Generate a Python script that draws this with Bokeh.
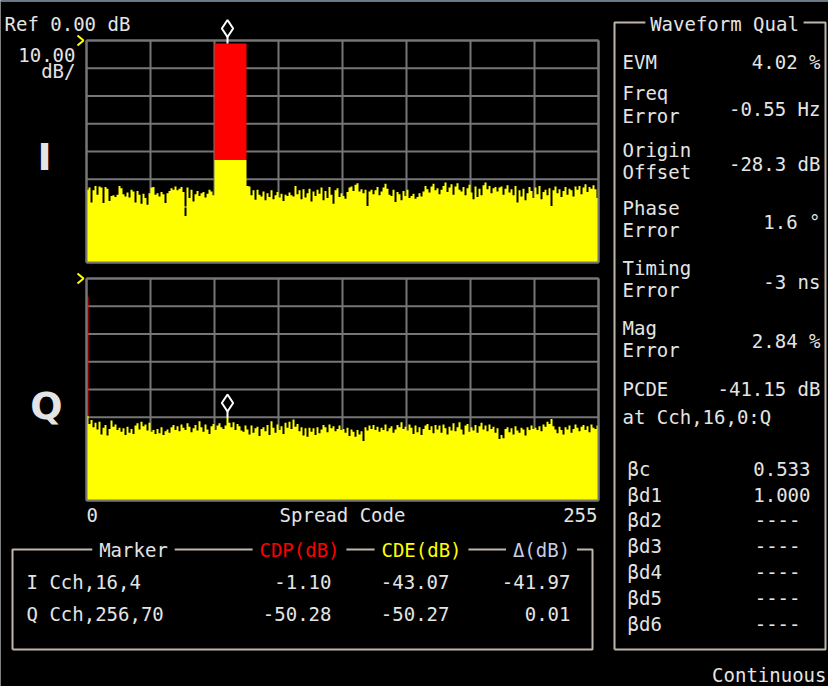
import numpy as np
from bokeh.plotting import figure
from bokeh.models import Range1d
from bokeh.core.properties import value
from bokeh.embed import file_html
from bokeh.resources import INLINE

# ---------------- data ----------------
N_CODES = 256
CODE_TICKS = [0, 32, 64, 96, 128, 160, 192, 224, 256]
DB_TICKS = [0, -10, -20, -30, -40, -50, -60, -70, -80]
DB_BOTTOM = -80.0

# I branch: code-domain error floor per code (dB); codes 64-79 = CDE of Cch 16,4
I_floor = [
    -53.8, -53.0, -58.4, -54.0, -52.4, -55.6, -52.6, -53.0, -58.6, -52.8, -53.4, -57.8, -56.0, -55.8, -56.4, -55.6,
    -52.4, -53.2, -55.4, -56.2, -54.8, -56.6, -53.8, -54.4, -58.4, -54.2, -55.6, -58.8, -55.2, -56.8, -59.2, -55.0,
    -53.0, -52.8, -55.6, -55.0, -56.2, -54.6, -55.4, -58.6, -55.0, -54.2, -53.2, -53.8, -52.6, -54.0, -53.4, -52.8,
    -54.6, -63.2, -53.0, -56.8, -53.8, -58.0, -55.4, -54.2, -56.0, -55.0, -54.6, -56.6, -55.2, -53.8, -54.4, -55.8,
    -43.07, -43.07, -43.07, -43.07, -43.07, -43.07, -43.07, -43.07, -43.07, -43.07, -43.07, -43.07, -43.07, -43.07, -43.07, -43.07,
    -52.4, -52.6, -55.8, -54.0, -57.4, -53.8, -55.6, -56.2, -54.4, -57.6, -55.0, -56.4, -54.0, -57.2, -55.8, -54.6,
    -56.6, -55.2, -57.8, -55.6, -56.0, -54.8, -55.8, -56.2, -52.4, -55.4, -54.0, -57.2, -53.6, -56.6, -55.0, -53.4,
    -58.0, -54.4, -56.0, -53.8, -55.2, -53.0, -57.6, -54.2, -56.8, -52.8, -55.6, -58.8, -54.0, -53.2, -56.4, -55.0,
    -56.0, -57.0, -54.6, -53.0, -52.6, -54.2, -52.0, -51.4, -54.4, -53.6, -55.0, -53.8, -59.6, -54.4, -53.8, -55.4,
    -54.0, -52.8, -55.8, -54.4, -53.0, -51.6, -53.4, -55.6, -56.0, -53.8, -58.2, -54.6, -55.4, -57.6, -54.2, -56.0,
    -53.8, -56.8, -56.0, -55.2, -57.0, -56.4, -55.0, -56.2, -54.4, -52.4, -53.6, -54.8, -52.6, -51.6, -54.0, -53.2,
    -55.4, -53.8, -52.4, -51.2, -54.6, -53.0, -51.8, -55.6, -52.6, -51.4, -53.8, -54.4, -52.8, -55.8, -53.2, -52.0,
    -54.8, -57.2, -52.6, -56.4, -53.4, -55.8, -52.2, -51.2, -53.6, -52.4, -55.0, -53.2, -52.8, -54.4, -53.0, -52.6,
    -55.6, -53.4, -52.2, -54.8, -53.6, -55.8, -52.4, -58.4, -54.0, -56.2, -53.4, -57.6, -55.0, -52.8, -54.2, -56.8,
    -53.0, -55.4, -52.4, -57.2, -54.6, -53.8, -55.8, -53.2, -59.6, -54.0, -52.6, -55.0, -53.6, -56.4, -54.2, -52.8,
    -55.6, -53.4, -54.0, -56.2, -52.6, -53.8, -52.4, -55.4, -53.0, -51.8, -54.6, -52.8, -53.4, -52.2, -53.6, -56.8,
]

# Q branch floor per code (dB); code 0 = DPCCH error, code 70 = marker
Q_floor = [
    -49.5, -52.4, -51.0, -53.6, -52.0, -54.4, -51.6, -56.2, -53.8, -52.8, -56.6, -54.2, -51.2, -53.4, -52.6, -54.6,
    -53.8, -55.2, -54.0, -56.4, -53.4, -55.6, -54.2, -56.0, -53.0, -52.2, -54.4, -51.6, -53.2, -52.6, -54.8, -52.0,
    -55.2, -54.6, -56.0, -54.2, -55.8, -53.6, -56.4, -55.0, -54.4, -55.6, -53.6, -52.8, -54.6, -53.2, -55.0, -52.6,
    -53.8, -54.6, -52.2, -53.4, -55.4, -54.0, -52.8, -54.8, -51.4, -53.6, -55.2, -52.6, -54.4, -56.0, -53.2, -52.4,
    -54.6, -53.0, -52.2, -53.6, -54.2, -53.0, -50.28, -52.0, -53.6, -51.8, -54.6, -52.4, -53.2, -54.8, -55.2, -53.0,
    -54.4, -56.2, -53.0, -55.6, -54.0, -53.4, -56.8, -54.2, -53.6, -55.0, -52.8, -56.4, -51.4, -53.8, -55.6, -52.6,
    -54.6, -53.2, -56.0, -52.0, -53.8, -51.6, -54.2, -50.8, -53.4, -52.4, -55.0, -53.6, -56.6, -54.0, -57.0, -53.8,
    -55.2, -54.0, -56.4, -53.6, -55.8, -54.4, -52.8, -53.6, -55.4, -52.6, -54.0, -53.2, -55.0, -54.2, -53.0, -54.6,
    -54.2, -55.6, -53.8, -56.8, -54.4, -55.2, -57.0, -54.6, -56.2, -55.0, -58.6, -53.6, -54.8, -53.0, -54.2, -52.8,
    -54.6, -53.4, -55.2, -53.8, -54.6, -52.6, -55.0, -54.0, -53.2, -55.6, -54.4, -52.8, -53.6, -51.8, -54.2, -53.4,
    -54.8, -52.6, -53.8, -56.0, -53.0, -55.4, -53.6, -56.4, -54.2, -53.0, -52.4, -54.6, -53.2, -55.8, -52.8, -54.4,
    -53.0, -55.6, -52.6, -54.0, -56.2, -53.4, -54.8, -52.2, -55.0, -53.6, -51.8, -54.4, -56.2, -53.0, -52.4, -55.2,
    -53.6, -54.8, -52.8, -55.6, -53.2, -52.0, -54.4, -53.0, -55.0, -52.6, -54.2, -53.4, -55.6, -54.0, -57.8, -56.4,
    -57.6, -54.2, -53.6, -55.4, -54.0, -56.2, -53.2, -54.8, -55.6, -53.8, -54.4, -56.6, -53.6, -54.6, -53.0, -54.2,
    -53.8, -54.6, -53.2, -55.0, -52.6, -53.4, -51.6, -52.4, -50.6, -53.2, -54.4, -55.8, -53.4, -54.6, -56.2, -53.6,
    -54.4, -53.0, -55.6, -54.2, -52.6, -53.8, -55.0, -53.4, -52.8, -54.6, -53.2, -55.4, -52.6, -53.8, -54.2, -53.0,
]

# active channels (first code, number of codes, CDP dB, CDE dB)
I_ch_start, I_ch_width, I_ch_cdp, I_ch_cde = [64], [16], [-1.10], [-43.07]
Q_ch_start, Q_ch_width, Q_ch_cdp, Q_ch_cde = [0], [1], [-6.55], [-49.5]

# markers: code, value
I_marker_code, I_marker_db = 70, -1.10
Q_marker_code, Q_marker_db = 70, -50.28

marker_rows = ["I Cch,16,4", "Q Cch,256,70"]
marker_cdp = ["-1.10", "-50.28"]
marker_cde = ["-43.07", "-50.27"]
marker_delta = ["-41.97", "0.01"]

wq_labels = ["EVM", "Freq", "Error", "Origin", "Offset", "Phase", "Error", "Timing", "Error", "Mag", "Error", "PCDE", "at Cch,16,0:Q"]
wq_values = ["4.02 %", "-0.55 Hz", "-28.3 dB", "1.6 °", "-3 ns", "2.84 %", "-41.15 dB"]
beta_labels = ["βc", "βd1", "βd2", "βd3", "βd4", "βd5", "βd6"]
beta_values = ["0.533", "1.000", "----", "----", "----", "----", "----"]

# ---------------- layout / style ----------------
W, H = 828, 686
M = 8  # page margin (reference pixel coords -> figure coords)
MONO = "DejaVu Sans Mono"
FS = "19px"
FG = "#e4e4e4"
GRID = "#767676"
BOX = "#bfb8aa"
YEL = "#ffff00"
RED = "#ff0000"

# panel pixel boxes in reference coordinates
PX_L, PX_R = 94, 606
I_TOP, I_BOT = 48, 270
Q_TOP, Q_BOT = 286, 508


def lin(p0, v0, p1, v1, total):
    s = (v1 - v0) / (p1 - p0)
    return v0 + (0 - p0) * s, v0 + (total - p0) * s


cx0, cx1 = lin(PX_L - M, 0, PX_R - M, N_CODES, W)
iy_top, iy_bot = lin(I_TOP - M, 0, I_BOT - M, DB_BOTTOM, H)
qy_top, qy_bot = lin(Q_TOP - M, 0, Q_BOT - M, DB_BOTTOM, H)
DBPP = -DB_BOTTOM / (I_BOT - I_TOP)  # dB per pixel

p = figure(width=W, height=H, x_range=Range1d(0, W), y_range=Range1d(H, 0),
           x_axis_location=None, y_axis_location=None, min_border=0,
           background_fill_color="black", border_fill_color="black",
           outline_line_color=None, output_backend="svg", toolbar_location=None)
p.grid.grid_line_color = None
p.extra_x_ranges = {"code": Range1d(cx0, cx1)}
p.extra_y_ranges = {"idb": Range1d(iy_bot, iy_top), "qdb": Range1d(qy_bot, qy_top)}

codes = np.arange(N_CODES)
step_x = np.concatenate([[0], np.repeat(codes, 2) + np.tile([0, 1], N_CODES), [N_CODES]])

# top strip line
p.segment(x0=[0], y0=[0.5], x1=[W], y1=[0.5], line_color="#5b7997", line_width=2)

for yr, floor, cs, cw, cdp, cde, mcode, mdb in [
        ("idb", I_floor, I_ch_start, I_ch_width, I_ch_cdp, I_ch_cde, I_marker_code, I_marker_db),
        ("qdb", Q_floor, Q_ch_start, Q_ch_width, Q_ch_cdp, Q_ch_cde, Q_marker_code, Q_marker_db)]:
    # grid
    p.segment(x0=CODE_TICKS, x1=CODE_TICKS, y0=[DB_BOTTOM] * len(CODE_TICKS), y1=[0] * len(CODE_TICKS),
              x_range_name="code", y_range_name=yr, line_color=GRID, line_width=2)
    p.segment(x0=[0] * len(DB_TICKS), x1=[N_CODES] * len(DB_TICKS), y0=DB_TICKS, y1=DB_TICKS,
              x_range_name="code", y_range_name=yr, line_color=GRID, line_width=2)
    # error floor (yellow), drawn as one stepped area
    step_y = np.concatenate([[DB_BOTTOM], np.repeat(np.asarray(floor, float), 2), [DB_BOTTOM]])
    p.patch(x=step_x, y=step_y, x_range_name="code", y_range_name=yr,
            fill_color=YEL, line_color=None)
    # channel power (red)
    p.quad(left=cs, right=[a + b for a, b in zip(cs, cw)], bottom=cde, top=cdp,
           x_range_name="code", y_range_name=yr, fill_color=RED, line_color=None)
    # frame
    p.segment(x0=[0, N_CODES, 0, 0], x1=[0, N_CODES, N_CODES, N_CODES],
              y0=[DB_BOTTOM, DB_BOTTOM, 0, DB_BOTTOM], y1=[0, 0, 0, DB_BOTTOM],
              x_range_name="code", y_range_name=yr, line_color=GRID, line_width=2)
    # marker
    mx = mcode + 0.5
    p.segment(x0=[mx], x1=[mx], y0=[mdb], y1=[mdb + 8 * DBPP], x_range_name="code", y_range_name=yr,
              line_color="white", line_width=2)
    p.scatter(x=[mx], y=[mdb + 15 * DBPP], marker="diamond", size=17, fill_color="black",
              line_color="white", line_width=2, x_range_name="code", y_range_name=yr)

# reference level chevrons
for ty in (I_TOP, Q_TOP):
    p.line(x=[85 - M, 91 - M, 85 - M], y=[ty - 5 - M, ty - M, ty + 5 - M], line_color=YEL, line_width=2)


def put(xs, ys, texts, color=FG, align="left", size=FS, font=MONO, style="normal"):
    p.text(x=[x - M for x in xs], y=[y - M for y in ys], text=texts, text_color=color,
           text_align=align, text_baseline="middle", text_font=value(font), text_font_size=size,
           text_font_style=style)


def seg(pts):
    p.line(x=[a - M for a, _ in pts], y=[b - M for _, b in pts], line_color=BOX, line_width=2)


# left header texts
put([12], [31], ["Ref 0.00 dB"])
put([83, 83], [62, 78], ["10.00", "dB/"], align="right")
put([52], [164], ["I"], align="center", size="38px", font="DejaVu Sans", style="bold")
put([54], [413], ["Q"], align="center", size="38px", font="DejaVu Sans", style="bold")

# code axis labels
put([94], [522], ["0"])
put([350], [522], ["Spread Code"], align="center")
put([605], [522], ["255"], align="right")

# marker table
CW = 0.6 * 19
hdr_text = ["Marker", "CDP(dB)", "CDE(dB)", "Δ(dB)"]
hdr_cx = [141, 307, 429, 549]
hdr_col = [FG, RED, YEL, "#c6cee2"]
HY, BL, BR, BB = 557, 20, 600, 657
edges = []
for t, c, col in zip(hdr_text, hdr_cx, hdr_col):
    put([c], [HY], [t], color=col, align="center")
    edges.append((c - len(t) * CW / 2, c + len(t) * CW / 2))
seg([(BL, BB), (BL, HY), (edges[0][0] - 7, HY)])
for (a0, a1), (b0, b1) in zip(edges[:-1], edges[1:]):
    seg([(a1 + 7, HY), (b0 - 7, HY)])
seg([(edges[-1][1] + 7, HY), (BR, HY), (BR, BB), (BL, BB)])
row_y = [589, 621]
put([34, 34], row_y, marker_rows)
put([339, 339], row_y, marker_cdp, align="right")
put([457, 457], row_y, marker_cde, align="right")
put([578, 578], row_y, marker_delta, align="right")

# waveform quality panel
RL, RR, RT, RB = 622, 833, 30, 657
title = "Waveform Qual"
tc = 732
seg([(RL, RB), (RL, RT), (tc - len(title) * CW / 2 - 5, RT)])
seg([(tc + len(title) * CW / 2 + 5, RT), (RR, RT), (RR, RB), (RL, RB)])
put([tc], [RT + 1], [title], align="center")
lab_y = [69, 100, 123, 157, 179, 215, 237, 275, 297, 335, 357, 396, 424]
put([630] * len(wq_labels), lab_y, wq_labels)
val_y = [69, 116, 171, 229, 289, 348, 396]
put([828] * len(wq_values), val_y, wq_values, align="right")
beta_y = [476, 502, 527, 553, 579, 605, 631]
put([635] * len(beta_labels), beta_y, beta_labels)
put([818, 818], beta_y[:2], beta_values[:2], align="right")
put([808] * 5, beta_y[2:], beta_values[2:], align="right")
put([834], [682], ["Continuous"], align="right")

open("out.html", "w").write(file_html(p, INLINE))
